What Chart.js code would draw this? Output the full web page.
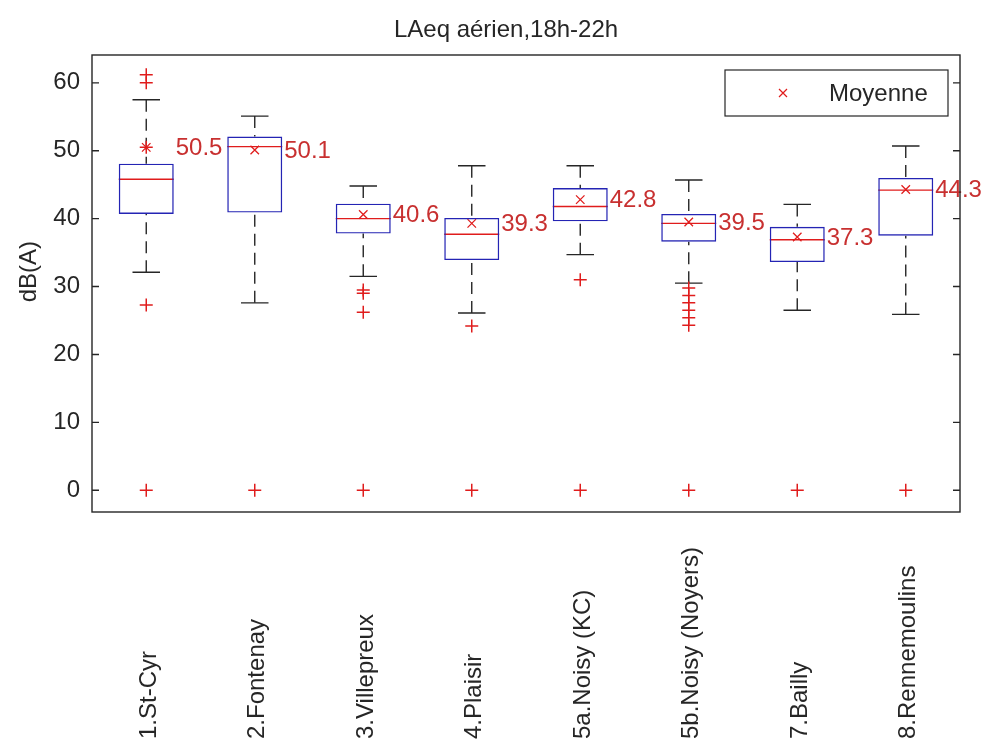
<!DOCTYPE html>
<html>
<head>
<meta charset="utf-8">
<script src="https://cdn.jsdelivr.net/npm/chart.js@4.4.1/dist/chart.umd.min.js"></script>
<style>
  html, body { margin: 0; padding: 0; background: #fff; }
  #wrap { width: 993px; height: 746px; }
</style>
</head>
<body>
<div id="wrap"><canvas id="c"></canvas></div>
<script>
const sites = ['1.St-Cyr', '2.Fontenay', '3.Villepreux', '4.Plaisir', '5a.Noisy (KC)', '5b.Noisy (Noyers)', '7.Bailly', '8.Rennemoulins'];

// box statistics per site, dB(A)
const whiskerLow  = [32.1, 27.6, 31.5, 26.1, 34.7, 30.5, 26.5, 25.9];
const q1          = [40.7, 40.9, 37.8, 33.9, 39.6, 36.6, 33.6, 37.5];
const medians     = [45.8, 50.6, 40.0, 37.7, 41.8, 39.3, 36.9, 44.2];
const q3          = [48.1, 52.1, 42.2, 40.1, 44.5, 40.7, 38.8, 46.0];
const whiskerHigh = [57.5, 55.1, 44.8, 47.8, 47.8, 45.7, 42.1, 50.7];
const means       = [50.5, 50.1, 40.6, 39.3, 42.8, 39.5, 37.3, 44.3];

const outliers = [
  [61.2, 60.0, 50.5, 27.3, 0],
  [0],
  [29.5, 29.0, 26.2, 0],
  [24.2, 0],
  [31.0, 0],
  [29.8, 28.7, 27.6, 26.5, 25.4, 24.3, 0],
  [0],
  [0]
];

const yTicks = [0, 10, 20, 30, 40, 50, 60];
const title = 'LAeq aérien,18h-22h';
const yLabel = 'dB(A)';

const FONT = '"Liberation Sans", Arial, sans-serif';
const RED = '#e01c1c';
const LABEL_RED = '#c83030';
const BLUE = '#2424b4';
const INK = '#262626';

const outlierPoints = [];
outliers.forEach((vals, i) => vals.forEach((v) => outlierPoints.push({ x: sites[i], y: v })));
const meanPoints = means.map((v, i) => ({ x: sites[i], y: v }));

// whiskers, caps, medians under the boxes; mean labels, frame, texts on top
const boxPlot = {
  id: 'boxPlot',
  beforeDatasetsDraw(chart) {
    const { ctx, scales: { x, y } } = chart;
    const bars = chart.getDatasetMeta(0).data;
    ctx.save();
    bars.forEach((bar, i) => {
      const cx = x.getPixelForValue(i);
      const half = bar.width / 2;
      const cap = half / 2;
      ctx.strokeStyle = INK;
      ctx.lineWidth = 1.4;
      // dashed whiskers
      ctx.setLineDash([12, 7]);
      ctx.beginPath();
      ctx.moveTo(cx, y.getPixelForValue(whiskerHigh[i]));
      ctx.lineTo(cx, y.getPixelForValue(q3[i]));
      ctx.moveTo(cx, y.getPixelForValue(whiskerLow[i]));
      ctx.lineTo(cx, y.getPixelForValue(q1[i]));
      ctx.stroke();
      // caps
      ctx.setLineDash([]);
      ctx.beginPath();
      [whiskerHigh[i], whiskerLow[i]].forEach((v) => {
        const py = y.getPixelForValue(v);
        ctx.moveTo(cx - cap, py);
        ctx.lineTo(cx + cap, py);
      });
      ctx.stroke();
      // median
      ctx.strokeStyle = RED;
      ctx.beginPath();
      const pm = y.getPixelForValue(medians[i]);
      ctx.moveTo(cx - half, pm);
      ctx.lineTo(cx + half, pm);
      ctx.stroke();
    });
    ctx.restore();
  },
  afterDatasetsDraw(chart) {
    const { ctx, chartArea: a, scales: { x, y } } = chart;
    const bars = chart.getDatasetMeta(0).data;
    ctx.save();
    // mean values next to each box
    ctx.font = '24px ' + FONT;
    ctx.fillStyle = LABEL_RED;
    ctx.textAlign = 'left';
    ctx.textBaseline = 'middle';
    bars.forEach((bar, i) => {
      ctx.fillText(means[i].toFixed(1), bar.x + bar.width / 2 + 2, y.getPixelForValue(means[i]) + 1);
    });

    // axes frame with inward ticks on both sides
    ctx.strokeStyle = INK;
    ctx.lineWidth = 1.4;
    ctx.strokeRect(a.left, a.top, a.right - a.left, a.bottom - a.top);
    ctx.beginPath();
    yTicks.forEach((v) => {
      const py = y.getPixelForValue(v);
      ctx.moveTo(a.left, py);
      ctx.lineTo(a.left + 7, py);
      ctx.moveTo(a.right, py);
      ctx.lineTo(a.right - 7, py);
    });
    ctx.stroke();

    // legend box
    const lw = 223, lh = 46;
    const lx = a.right - 12 - lw, ly = a.top + 15;
    ctx.fillStyle = '#fff';
    ctx.fillRect(lx, ly, lw, lh);
    ctx.lineWidth = 1.2;
    ctx.strokeRect(lx, ly, lw, lh);
    const mx = lx + 58, my = ly + lh / 2;
    ctx.strokeStyle = RED;
    ctx.beginPath();
    ctx.moveTo(mx - 4, my - 4); ctx.lineTo(mx + 4, my + 4);
    ctx.moveTo(mx - 4, my + 4); ctx.lineTo(mx + 4, my - 4);
    ctx.stroke();
    ctx.fillStyle = INK;
    ctx.fillText(chart.data.datasets[2].label, lx + 104, my + 1);

    // title above the axes
    ctx.textAlign = 'center';
    ctx.fillText(title, a.left + (a.right - a.left) * 0.477, 30);

    // y axis label
    ctx.save();
    ctx.translate(29, a.top + (a.bottom - a.top) * 0.474);
    ctx.rotate(-Math.PI / 2);
    ctx.fillText(yLabel, 0, 0);
    ctx.restore();

    // rotated site names, starting from the bottom edge
    sites.forEach((s, i) => {
      ctx.save();
      ctx.translate(x.getPixelForValue(i) + 3, 739);
      ctx.rotate(-Math.PI / 2);
      ctx.textAlign = 'left';
      ctx.fillText(s, 0, 0);
      ctx.restore();
    });
    ctx.restore();
  }
};

new Chart(document.getElementById('c'), {
  type: 'bar',
  data: {
    labels: sites,
    datasets: [
      {
        label: 'Boîte',
        data: q1.map((v, i) => [v, q3[i]]),
        backgroundColor: 'rgba(0,0,0,0)',
        borderColor: BLUE,
        borderWidth: 1.4,
        borderSkipped: false,
        categoryPercentage: 1,
        barPercentage: 0.507
      },
      {
        type: 'line',
        label: 'Valeurs extrêmes',
        data: outlierPoints,
        showLine: false,
        pointStyle: 'cross',
        pointRadius: 6.5,
        borderColor: RED,
        backgroundColor: RED,
        pointBorderWidth: 1.5
      },
      {
        type: 'line',
        label: 'Moyenne',
        data: meanPoints,
        showLine: false,
        pointStyle: 'crossRot',
        pointRadius: 6,
        borderColor: RED,
        backgroundColor: RED,
        pointBorderWidth: 1.3
      }
    ]
  },
  options: {
    responsive: true,
    maintainAspectRatio: false,
    animation: false,
    layout: { padding: { left: 0, right: 33, top: 55, bottom: 0 } },
    plugins: {
      legend: { display: false },
      tooltip: { enabled: false }
    },
    scales: {
      x: {
        offset: true,
        grid: { display: false, drawTicks: false },
        border: { display: false },
        ticks: { display: false },
        afterFit: (s) => { s.height = 234; }
      },
      y: {
        min: -3.2,
        max: 64.1,
        grid: { display: false, drawTicks: false },
        border: { display: false },
        afterBuildTicks: (s) => { s.ticks = yTicks.map((v) => ({ value: v })); },
        ticks: {
          color: INK,
          padding: 12,
          font: { family: FONT, size: 24 }
        },
        afterFit: (s) => { s.width = 92; }
      }
    }
  },
  plugins: [boxPlot]
});
</script>
</body>
</html>
